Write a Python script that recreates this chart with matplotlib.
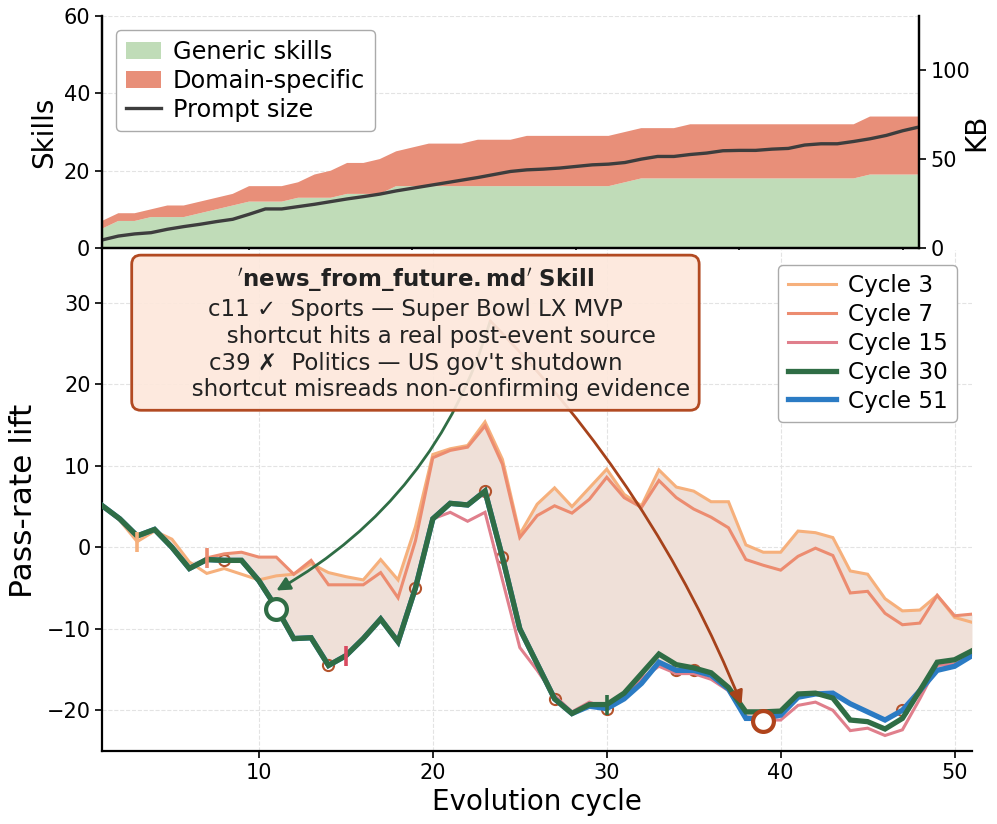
import numpy as np
import matplotlib
matplotlib.use("Agg")
import matplotlib.pyplot as plt

# ---------------------------------------------------------
# data
# ---------------------------------------------------------

cycles = np.arange(1, 52)

generic_skills = [5, 7, 7, 8, 8, 8, 9, 10, 11, 12, 12, 12, 13, 13, 13, 14, 14, 14, 16, 16,
                  16, 16, 16, 16, 16, 16, 16, 16, 16, 16, 16, 16, 17, 18, 18, 18, 18, 18, 18, 18,
                  18, 18, 18, 18, 18, 18, 18, 19, 19, 19, 19]
domain_skills = [2, 2, 2, 2, 3, 3, 3, 3, 3, 4, 4, 4, 4, 6, 7, 8, 8, 9, 9, 10,
                 11, 11, 11, 12, 12, 12, 13, 13, 13, 13, 13, 13, 13, 13, 13, 13, 14, 14, 14, 14,
                 14, 14, 14, 14, 14, 14, 14, 15, 15, 15, 15]
prompt_kb = [4.5, 6.7, 7.9, 8.6, 10.5, 12.0, 13.3, 14.8, 16.1, 18.9, 21.9, 21.9, 23.2, 24.5, 26.0,
             27.5, 28.8, 30.2, 32.0, 33.5, 35.0, 36.5, 38.0, 39.5, 41.2, 42.9, 43.8, 44.2, 44.8,
             45.7, 46.6, 47.0, 47.9, 49.8, 51.3, 51.3, 52.4, 53.2, 54.5, 54.7, 54.7, 55.4, 55.8,
             57.7, 58.4, 58.4, 59.7, 61.2, 63.1, 65.7, 67.8]

lift_c3 = [5.1, 3.3, 0.7, 2.0, 1.0, -1.8, -3.2, -2.6, -3.3, -4.0, -3.5, -3.3, -2.0, -3.1, -3.6,
           -4.0, -1.5, -4.0, 2.5, 11.4, 12.1, 12.5, 15.4, 10.8, 1.6, 5.3, 7.3, 5.0, 7.3, 9.6,
           6.5, 5.1, 9.5, 7.4, 6.9, 5.6, 5.6, 0.3, -0.6, -0.6, 2.0, 1.8, 1.2, -2.9, -3.3,
           -6.3, -7.8, -7.7, -5.9, -8.6, -9.2]
lift_c7 = [5.1, 3.5, 1.4, 2.2, 0.0, -2.6, -1.3, -0.8, -0.6, -1.2, -1.2, -3.3, -1.6, -4.6, -4.6,
           -4.6, -3.1, -6.2, 0.8, 11.0, 11.9, 12.3, 14.9, 10.2, 1.2, 3.9, 5.1, 4.2, 5.9, 8.6,
           6.1, 4.9, 8.2, 6.1, 4.7, 3.7, 2.4, -1.5, -2.2, -2.8, -1.1, -0.1, -1.0, -5.6, -5.4,
           -8.1, -9.5, -9.3, -5.9, -8.4, -8.2]
lift_c15 = [5.1, 3.5, 1.4, 2.2, 0.0, -2.6, -1.5, -1.6, -1.6, -4.1, -7.4, -11.2, -11.1, -14.5, -13.3,
            -11.2, -8.8, -11.6, -5.0, 3.5, 4.3, 3.2, 4.3, -4.0, -12.3, -15.1, -18.2, -20.2, -19.0, -19.8,
            -18.2, -16.1, -14.6, -15.5, -15.5, -16.2, -17.6, -20.8, -21.2, -21.2, -19.4, -19.0, -20.0,
            -22.5, -22.2, -23.1, -22.4, -18.6, -14.5, -14.3, -12.9]
lift_c30 = [5.1, 3.5, 1.4, 2.2, 0.0, -2.6, -1.5, -1.6, -1.6, -4.1, -7.4, -11.2, -11.1, -14.5, -13.3,
            -11.2, -8.8, -11.6, -5.0, 3.5, 5.4, 5.2, 6.9, -1.2, -10.0, -14.3, -18.6, -20.4, -19.3, -19.3,
            -17.9, -15.5, -13.1, -14.4, -14.8, -15.4, -17.2, -20.2, -20.2, -20.1, -18.0, -17.9, -18.5,
            -21.2, -21.4, -22.3, -21.0, -17.6, -14.1, -13.8, -12.7]
lift_c51 = [5.1, 3.5, 1.4, 2.2, 0.0, -2.6, -1.5, -1.6, -1.6, -4.1, -7.4, -11.2, -11.1, -14.5, -13.3,
            -11.2, -8.8, -11.6, -5.0, 3.5, 5.4, 5.2, 6.9, -1.2, -10.0, -14.3, -18.6, -20.4, -19.5, -19.8,
            -18.6, -16.7, -14.1, -15.1, -15.1, -15.7, -17.4, -21.0, -21.0, -20.6, -18.4, -18.0, -17.9,
            -19.2, -20.2, -21.2, -20.0, -17.6, -15.1, -14.6, -13.3]

skill_added_cycles = [8, 14, 19, 23, 24, 27, 30, 34, 35, 47]

series_labels = ["Cycle 3", "Cycle 7", "Cycle 15", "Cycle 30", "Cycle 51"]
series_cycles = [3, 7, 15, 30, 51]
series_colors = ["#f6b07c", "#ec8c70", "#e07f8c", "#2f6d45", "#2b7bc4"]
series_widths = [2.2, 2.2, 2.2, 3.8, 3.8]

# highlighted examples (cycle, lift)
highlight_green = (11, -7.6)
highlight_rust = (39, -21.3)

# ---------------------------------------------------------
# figure
# ---------------------------------------------------------

plt.rcParams["font.family"] = ["DejaVu Sans"]

fig = plt.figure(figsize=(9.97, 8.24), dpi=100)

ax_top = fig.add_axes([0.1023, 0.699, 0.8195, 0.2816])
ax = fig.add_axes([0.1027, 0.0886, 0.8722, 0.608])

# ---------------------------------
# top panel: skill library size
# ---------------------------------

ax_top.stackplot(
    cycles,
    generic_skills,
    domain_skills,
    colors=["#c0dcb8", "#e88f79"],
    labels=["Generic skills", "Domain-specific"],
    linewidth=0
)

ax_top.set_xlim(1, 51)
ax_top.set_ylim(0, 60)
ax_top.set_yticks([0, 20, 40, 60])
ax_top.set_xticks([10, 20, 30, 40, 50])
ax_top.tick_params(axis="x", labelbottom=False)
ax_top.set_ylabel("Skills", fontsize=20)
ax_top.grid(axis="y", linestyle="--", color="#e3e3e3", linewidth=0.8)
ax_top.set_axisbelow(True)
ax_top.spines["top"].set_visible(False)

ax_kb = ax_top.twinx()
prompt_line, = ax_kb.plot(cycles, prompt_kb, color="#3d3d3d", linewidth=2.4, label="Prompt size")
ax_kb.set_ylim(0, 130)
ax_kb.set_yticks([0, 50, 100])
ax_kb.set_ylabel("KB", fontsize=20)
ax_kb.yaxis.set_label_coords(1.053, 0.5)
ax_kb.spines["top"].set_visible(False)

handles, labels = ax_top.get_legend_handles_labels()
ax_kb.legend(
    handles + [prompt_line],
    labels + ["Prompt size"],
    loc="upper left",
    fontsize=17.3,
    framealpha=1,
    edgecolor="#aaaaaa",
    handlelength=1.45,
    handletextpad=0.5,
    labelspacing=0.2,
    borderaxespad=0.6
)

# ---------------------------------
# bottom panel: pass-rate lift
# ---------------------------------

all_series = [lift_c3, lift_c7, lift_c15, lift_c30, lift_c51]

upper = np.maximum(lift_c3, lift_c7)
ax.fill_between(cycles, upper, lift_c51, color="#efe0d8", linewidth=0, zorder=1)

draw_order = [0, 1, 2, 4, 3]
for i in draw_order:
    ax.plot(
        cycles,
        all_series[i],
        color=series_colors[i],
        linewidth=series_widths[i],
        label=series_labels[i],
        zorder=3 + i * 0.1 if i != 4 else 3.25,
        solid_joinstyle="miter"
    )

# skill-added markers on the final curve
added_y = [lift_c51[c - 1] for c in skill_added_cycles]
ax.plot(
    skill_added_cycles,
    added_y,
    linestyle="none",
    marker="o",
    markersize=8,
    markerfacecolor="none",
    markeredgecolor="#b4532c",
    markeredgewidth=1.5,
    zorder=3.05
)

# snapshot ticks on each curve
for i in range(4):
    c = series_cycles[i]
    ax.plot(
        c,
        all_series[i][c - 1],
        marker="|",
        markersize=14,
        markeredgewidth=2.6,
        color=series_colors[i] if i != 2 else "#d94a60",
        zorder=5
    )

# highlighted cycles
ax.plot(*highlight_green, marker="o", markersize=15, markerfacecolor="white",
        markeredgecolor="#2f6d45", markeredgewidth=3, zorder=6)
ax.plot(*highlight_rust, marker="o", markersize=15, markerfacecolor="white",
        markeredgecolor="#b0441c", markeredgewidth=3, zorder=6)

arrow_start = (23.3, 27.8)
ax.annotate(
    "",
    xy=(11.0, -5.3),
    xytext=arrow_start,
    arrowprops=dict(arrowstyle="-|>", color="#2f6d45", lw=2,
                    connectionstyle="arc3,rad=-0.2", shrinkA=0, shrinkB=0,
                    mutation_scale=20),
    zorder=7
)
ax.annotate(
    "",
    xy=(37.75, -19.3),
    xytext=arrow_start,
    arrowprops=dict(arrowstyle="-|>", color="#a6421b", lw=2,
                    connectionstyle="arc3,rad=-0.1", shrinkA=0, shrinkB=0,
                    mutation_scale=20),
    zorder=7
)

box_text = (
    r"$\mathbf{'news\_from\_future.md'\ Skill}$" + "\n"
    "c11 \u2713  Sports \u2014 Super Bowl LX MVP\n"
    "       shortcut hits a real post-event source\n"
    "c39 \u2717  Politics \u2014 US gov't shutdown\n"
    "       shortcut misreads non-confirming evidence"
)
ax.text(
    19.0, 26.2,
    box_text,
    ha="center",
    va="center",
    fontsize=16.5,
    color="#222222",
    zorder=8,
    bbox=dict(boxstyle="round,pad=0.4", facecolor=(0.992, 0.91, 0.863, 0.92),
              edgecolor="#b24a22", linewidth=2)
)

ax.set_xlim(1, 51)
ax.set_ylim(-25, 36.5)
ax.set_xticks([10, 20, 30, 40, 50])
ax.set_yticks([-20, -10, 0, 10, 20, 30])
ax.set_xlabel("Evolution cycle", fontsize=20)
ax.set_ylabel("Pass-rate lift", fontsize=22.5, labelpad=6)
ax.grid(linestyle="--", color="#e3e3e3", linewidth=0.8)
ax.set_axisbelow(True)
ax.spines["top"].set_visible(False)
ax.spines["right"].set_visible(False)

leg_handles, leg_labels = ax.get_legend_handles_labels()
order = [leg_labels.index(lbl) for lbl in series_labels]
ax.legend(
    [leg_handles[k] for k in order],
    [leg_labels[k] for k in order],
    loc="upper right",
    fontsize=16.7,
    framealpha=1,
    edgecolor="#aaaaaa",
    handlelength=2.1,
    handletextpad=0.5,
    labelspacing=0.25,
    borderaxespad=0.65
)

for a in [ax_top, ax_kb, ax]:
    a.tick_params(labelsize=15, width=1.2, length=5)
    for s in a.spines.values():
        s.set_linewidth(1.6)

fig.savefig("out.png", dpi=100)
